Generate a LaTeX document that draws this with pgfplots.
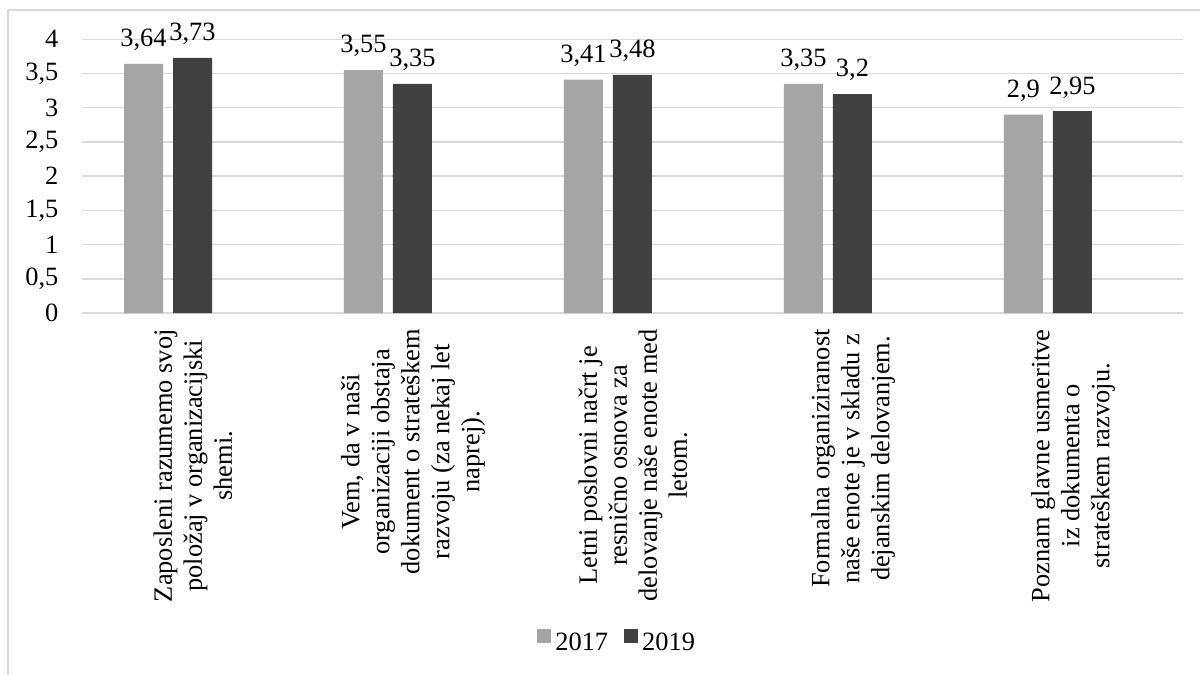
\documentclass[border=0pt]{standalone}
\usepackage{fontspec}
\setmainfont{Liberation Serif}
\usepackage{pgfplots}
\pgfplotsset{compat=1.18}
\definecolor{gA}{HTML}{A5A5A5}
\definecolor{gB}{HTML}{404040}
\definecolor{gridc}{HTML}{D9D9D9}
\newcommand{\lf}{\fontsize{13.2}{15}\selectfont}
\begin{document}
\begin{tikzpicture}
\useasboundingbox (0pt,0pt) rectangle (600pt,337.5pt);
\fill[white] (0pt,0pt) rectangle (600pt,337.5pt);
\draw[gridc, line width=0.75pt] (4pt,0pt) -- (4pt,332.5pt) -- (600pt,332.5pt);
\begin{axis}[
  at={(41pt,181pt)}, anchor=south west,
  width=550.5pt, height=136.85pt, scale only axis,
  ybar=5pt, bar width=19.5pt,
  xmin=-0.391, xmax=4.614, ymin=0, ymax=4,
  xtick={0,1,2,3,4},
  xticklabels={
    {Zaposleni razumemo svoj\\položaj v organizacijski\\shemi.},
    {Vem, da v naši\\organizaciji obstaja\\dokument o strateškem\\razvoju (za nekaj let\\naprej).},
    {Letni poslovni načrt je\\resnično osnova za\\delovanje naše enote med\\letom.},
    {Formalna organiziranost\\naše enote je v skladu z\\dejanskim delovanjem.},
    {Poznam glavne usmeritve\\iz dokumenta o\\strateškem razvoju.}},
  ytick={0,0.5,1,1.5,2,2.5,3,3.5,4},
  yticklabels={0,{0,5},1,{1,5},2,{2,5},3,{3,5},4},
  ymajorgrids, major grid style={gridc, line width=0.75pt},
  axis line style={draw=none}, major tick length=0pt,
  tick label style={font=\lf},
  xticklabel style={xshift=12.5pt, rotate=90, anchor=east, align=center, inner xsep=8pt},
  yticklabel style={xshift=-8.3pt},
  /pgf/number format/assume math mode=true,
  nodes near coords={\pgfmathprintnumber[use comma]{\pgfplotspointmeta}},
  every node near coord/.append style={font=\lf, yshift=3pt},
  legend style={at={(0.487,-1.206)}, anchor=center, draw=none, font=\lf,
    legend columns=2, /tikz/every even column/.append style={column sep=6pt}},
  legend image code/.code={\fill[#1] (0pt,0pt) rectangle (7pt,7pt);},
]
\addplot[fill=gA, draw=none] coordinates {(0,3.64) (1,3.55) (2,3.41) (3,3.35) (4,2.9)};
\addplot[fill=gB, draw=none] coordinates {(0,3.73) (1,3.35) (2,3.48) (3,3.2) (4,2.95)};
\legend{2017,2019}
\end{axis}
\end{tikzpicture}
\end{document}
